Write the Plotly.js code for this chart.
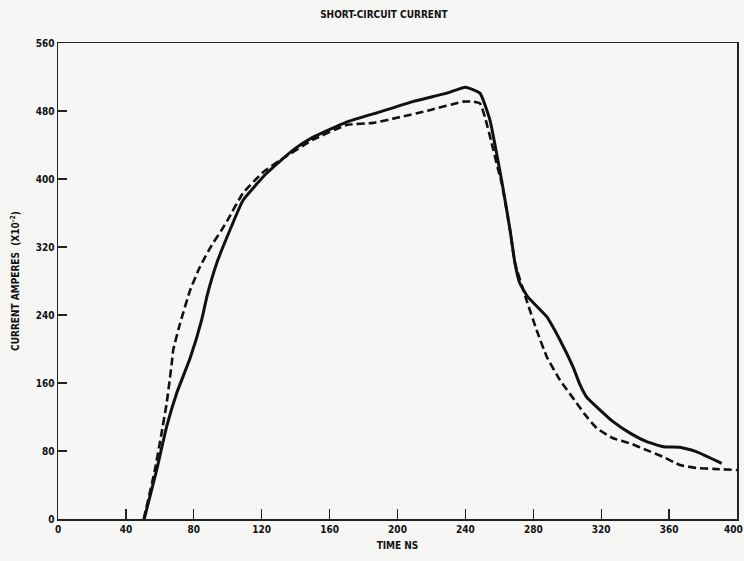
<!DOCTYPE html>
<html>
<head>
<meta charset="utf-8">
<script src="https://cdn.plot.ly/plotly-3.0.1.min.js"></script>
<style>html,body{margin:0;padding:0;background:#f6f6f4;}</style>
</head>
<body>
<div id="chart" style="width:744px;height:561px;"></div>
<script>
// Solid curve (time ns, current x10^-2 A)
const solidTime = [50.8, 58.1, 64, 69.9, 77.8, 84.6, 88, 93.5, 101.3, 109, 123, 138.4, 150, 170, 189.7, 209, 229, 240, 248.6, 254.5, 258.4, 262, 266.3, 269.2, 272, 276.9, 287.9, 295.7, 303.4, 307.5, 311.4, 317.3, 327, 337, 346.8, 356.6, 366.4, 376.3, 391];
const solidCurrent = [0, 57.6, 108.6, 148, 189, 234, 264, 301, 340, 375, 407, 434, 449, 467, 479, 491, 501, 508, 501, 469, 430, 391, 340, 301, 277.6, 261, 238, 210.6, 179, 158, 143.5, 132, 114.5, 101, 91, 85, 84.5, 79, 65.5];
// Dashed curve
const dashedTime = [50.5, 57, 61, 64, 67, 67.9, 71.9, 77.8, 83.7, 90.5, 96.4, 100, 109, 120.8, 130.8, 150, 170, 185.6, 199.7, 219, 238.6, 244.5, 248.6, 251.5, 255.5, 259.3, 261.4, 266.3, 269.2, 276, 282, 288, 295.7, 305.5, 310, 317.3, 327, 337, 346.8, 356.6, 366.4, 376.3, 386, 400];
const dashedCurrent = [0, 57, 101, 136, 183, 199, 230, 269, 297, 322, 340, 352, 383.5, 408, 422, 446, 463.5, 466, 472, 481, 491, 491, 489, 473, 442, 411, 395, 340, 301, 257.6, 222, 190.6, 163.5, 136.5, 124, 107, 95, 89, 81, 73, 63.5, 60, 59, 57.6];
const xTicks = [0, 40, 80, 120, 160, 200, 240, 280, 320, 360, 400];
const yTicks = [0, 80, 160, 240, 320, 400, 480, 560];

const FONT = 'DejaVu Sans Condensed, Liberation Sans Narrow, Arial Narrow, sans-serif';
const tickFont = {family: FONT, size: 10, color: '#111', weight: 'bold'};

const traces = [
  {x: solidTime, y: solidCurrent, mode: 'lines', line: {color: '#111', width: 3, shape: 'spline', smoothing: 0.4}, hoverinfo: 'skip', cliponaxis: true},
  {x: dashedTime, y: dashedCurrent, mode: 'lines', line: {color: '#111', width: 2.6, dash: '8px,4px', shape: 'spline', smoothing: 0.4}, hoverinfo: 'skip', cliponaxis: true}
];

const axisCommon = {
  showgrid: false, zeroline: false, showline: true, linecolor: '#222', linewidth: 1.5,
  mirror: true, ticks: 'inside', tickcolor: '#222', tickwidth: 1.3,
  tickfont: tickFont
};

// The last x tick label overflows the page edge, so Plotly drops it; draw it as an annotation instead.
const lastX = xTicks[xTicks.length - 1];
const xTickText = xTicks.map((v, i) => i === xTicks.length - 1 ? '' : String(v));

const layout = {
  width: 744, height: 561,
  margin: {l: 58, r: 7, t: 43, b: 42},
  paper_bgcolor: '#f6f6f4', plot_bgcolor: '#f6f6f4',
  showlegend: false,
  title: {text: 'SHORT-CIRCUIT CURRENT', font: {family: FONT, size: 10, color: '#111', weight: 'bold'},
          x: 0.516, xref: 'container', xanchor: 'center', y: 0.975, yref: 'container', yanchor: 'middle'},
  xaxis: Object.assign({}, axisCommon, {
    range: [0, 400], tickvals: xTicks, ticktext: xTickText, ticklen: 10,
    title: {text: 'TIME NS', font: {family: FONT, size: 10, color: '#111', weight: 'bold'}, standoff: 8}
  }),
  yaxis: Object.assign({}, axisCommon, {
    range: [0, 560], tickvals: yTicks, ticktext: yTicks.map(String), ticklen: 9,
    title: {text: 'CURRENT AMPERES  (X10<sup>-2</sup>)', font: {family: FONT, size: 10, color: '#111', weight: 'bold'}, standoff: 14}
  }),
  annotations: [{
    x: lastX, xref: 'x', y: 0, yref: 'paper', yanchor: 'top', xanchor: 'center', yshift: -3, xshift: -4,
    text: String(lastX), showarrow: false, font: tickFont
  }]
};

Plotly.newPlot('chart', traces, layout, {displayModeBar: false, staticPlot: true});
</script>
</body>
</html>
